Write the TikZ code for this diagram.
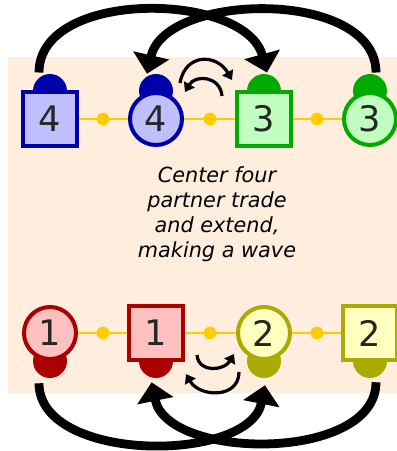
\documentclass[tikz,border=0pt]{standalone}
\usepackage{fontspec}
\setmainfont{DejaVu Sans}
\usepackage{tikz}
\usetikzlibrary{arrows.meta}
\usepackage{xcolor}
\definecolor{floorpeach}{HTML}{FFEEDD}
\definecolor{coupleline}{HTML}{FFCC00}
\definecolor{dblue}{HTML}{0000AA}
\definecolor{dbluefill}{HTML}{C0C0FF}
\definecolor{dgreen}{HTML}{00AA00}
\definecolor{dgreenfill}{HTML}{C0FFC0}
\definecolor{dred}{HTML}{AA0000}
\definecolor{dredfill}{HTML}{FFC0C0}
\definecolor{dyellow}{HTML}{AAAA00}
\definecolor{dyellowfill}{HTML}{FFFFC0}

\begin{document}
\begin{tikzpicture}[
  boy/.style={rectangle,draw=#1,fill=#1fill,line width=0.1cm,minimum size=1.35cm,inner sep=0pt,text=black!85,font=\fontsize{25}{25}\selectfont},
  girl/.style={circle,draw=#1,fill=#1fill,line width=0.1cm,minimum size=1.3cm,inner sep=0pt,text=black!85,font=\fontsize{25}{25}\selectfont},
  head/.style={circle,fill=#1,minimum size=0.85cm,inner sep=0pt},
  dot/.style={circle,fill=coupleline,minimum size=0.32cm,inner sep=0pt},
  couple/.style={coupleline,line width=0.05cm},
  bigarrow/.style={-{Triangle[width=0.9cm,length=0.47cm]},line width=0.22cm},
  swirl/.style={-{Triangle[width=0.3cm,length=0.22cm]},line width=0.08cm}
]
\useasboundingbox (0,0) rectangle (9.925,11.275);
\fill[floorpeach] (0.2,1.45) rectangle (9.925,9.85);

\node[head=dblue] (h4b) at (1.25,9.0) {};
\node[head=dblue] (h4g) at (3.9,9.0) {};
\node[head=dgreen] (h3b) at (6.6,9.0) {};
\node[head=dgreen] (h3g) at (9.25,9.0) {};
\node[head=dred] (h1g) at (1.25,2.25) {};
\node[head=dred] (h1b) at (3.9,2.25) {};
\node[head=dyellow] (h2g) at (6.6,2.25) {};
\node[head=dyellow] (h2b) at (9.25,2.25) {};

\node[boy=dblue] (boy4) at (1.25,8.3) {4};
\node[girl=dblue] (girl4) at (3.9,8.3) {4};
\node[boy=dgreen] (boy3) at (6.6,8.3) {3};
\node[girl=dgreen] (girl3) at (9.25,8.3) {3};

\node[girl=dred] (girl1) at (1.25,2.95) {1};
\node[boy=dred] (boy1) at (3.9,2.95) {1};
\node[girl=dyellow] (girl2) at (6.6,2.95) {2};
\node[boy=dyellow] (boy2) at (9.25,2.95) {2};

\draw[couple] (boy4) -- (girl4);
\draw[couple] (girl4) -- (boy3);
\draw[couple] (boy3) -- (girl3);
\draw[couple] (girl1) -- (boy1);
\draw[couple] (boy1) -- (girl2);
\draw[couple] (girl2) -- (boy2);

\node[dot] (d1) at (2.575,8.3) {};
\node[dot] (d2) at (5.25,8.3) {};
\node[dot] (d3) at (7.925,8.3) {};
\node[dot] (d4) at (2.575,2.95) {};
\node[dot] (d5) at (5.25,2.95) {};
\node[dot] (d6) at (7.925,2.95) {};

\node[font=\fontsize{14.8}{17.8}\selectfont\itshape,align=center] (caption) at (5.425,5.93) {Center four\\partner trade\\and extend,\\making a wave};

\coordinate (s1) at ([shift={(-0.275,0.03)}]h4b.north);
\coordinate (t1) at ([shift={(0.075,0.03)}]h3b.north);
\coordinate (s2) at ([shift={(0.15,0.03)}]h3g.north);
\coordinate (t2) at ([shift={(-0.225,0)}]h4g.north);
\coordinate (s3) at ([shift={(-0.275,-0.125)}]h1g.south);
\coordinate (t3) at ([shift={(0.025,-0.175)}]h2g.south);
\coordinate (s4) at ([shift={(0.15,-0.1)}]h2b.south);
\coordinate (t4) at ([shift={(-0.11,-0.1)}]h1b.south);

\draw[bigarrow] (s1) .. controls +(0,2.1) and +(-0.55,2.03) .. (t1);
\draw[bigarrow] (s2) .. controls +(0,2.1) and +(0.47,2.05) .. (t2);
\draw[bigarrow] (s3) .. controls +(0,-2) and +(-0.39,-1.96) .. (t3);
\draw[bigarrow] (s4) .. controls +(0,-2) and +(0.4,-1.96) .. (t4);

\coordinate (w1s) at (4.5,9.2);
\coordinate (w1e) at (5.8,9.275);
\coordinate (w2s) at (5.55,8.875);
\coordinate (w2e) at (4.625,8.975);
\coordinate (w3s) at (4.925,2.4);
\coordinate (w3e) at (5.85,2.425);
\coordinate (w4s) at (5.975,1.975);
\coordinate (w4e) at (4.65,1.925);

\draw[swirl] (w1s) to[out=80,in=120,looseness=1.5] (w1e);
\draw[swirl] (w2s) to[out=95,in=60,looseness=1.4] (w2e);
\draw[swirl] (w3s) to[out=-85,in=-120,looseness=1.3] (w3e);
\draw[swirl] (w4s) to[out=-90,in=-60,looseness=1.3] (w4e);

\end{tikzpicture}
\end{document}
